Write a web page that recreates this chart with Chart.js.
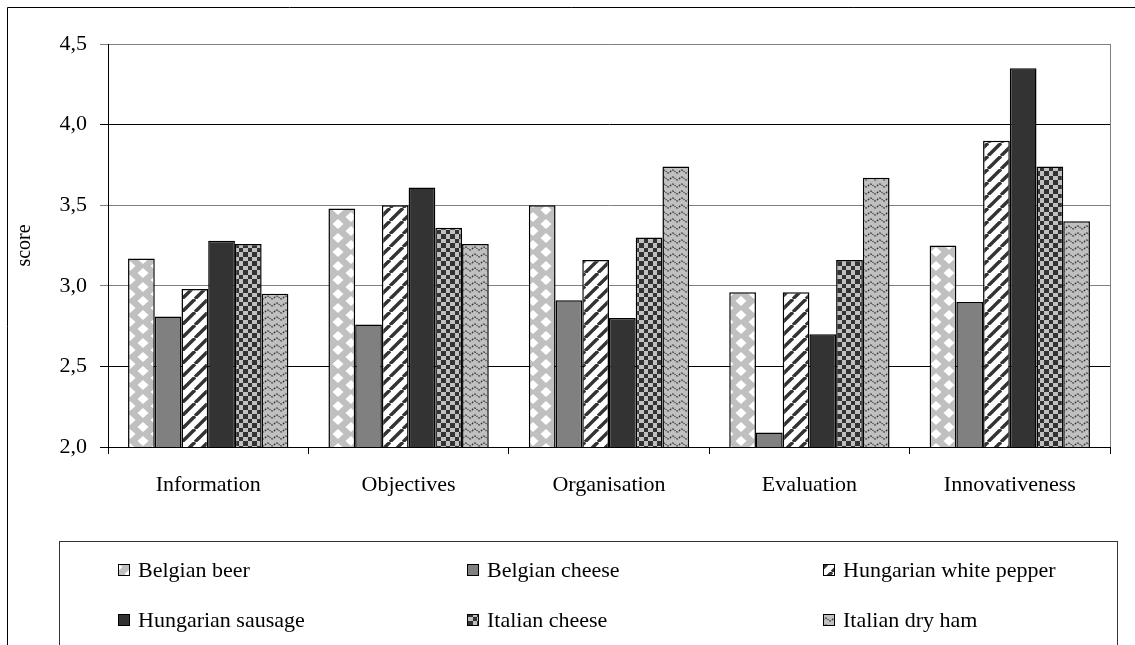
<!DOCTYPE html>
<html>
<head>
<meta charset="utf-8">
<script src="https://cdn.jsdelivr.net/npm/chart.js@4/dist/chart.umd.min.js"></script>
<style>
  html, body { margin: 0; padding: 0; background: #fff; }
  #wrap { width: 1135px; height: 645px; }
</style>
</head>
<body>
<div id="wrap"><canvas id="c" width="1135" height="645"></canvas></div>
<script>
// Scores per dimension for each product
const categories = ['Information', 'Objectives', 'Organisation', 'Evaluation', 'Innovativeness'];
const seriesNames = ['Belgian beer', 'Belgian cheese', 'Hungarian white pepper', 'Hungarian sausage', 'Italian cheese', 'Italian dry ham'];
const belgianBeer          = [3.17, 3.48, 3.50, 2.96, 3.25];
const belgianCheese        = [2.81, 2.76, 2.91, 2.09, 2.90];
const hungarianWhitePepper = [2.98, 3.50, 3.16, 2.96, 3.90];
const hungarianSausage     = [3.28, 3.61, 2.80, 2.70, 4.35];
const italianCheese        = [3.26, 3.36, 3.30, 3.16, 3.74];
const italianDryHam        = [2.95, 3.26, 3.74, 3.67, 3.40];
const yTickLabels = ['2,0', '2,5', '3,0', '3,5', '4,0', '4,5'];
const axisTitle = 'score';

const canvas = document.getElementById('c');
const mainCtx = canvas.getContext('2d');

// Build a repeating fill pattern from a small tile
function makePattern(w, h, draw) {
  const t = document.createElement('canvas');
  t.width = w; t.height = h;
  draw(t.getContext('2d'), w, h);
  return mainCtx.createPattern(t, 'repeat');
}

// light grey with white diamonds
const diamondFill = makePattern(26, 14, (g, w, h) => {
  g.fillStyle = '#c0c0c0';
  g.fillRect(0, 0, w, h);
  g.fillStyle = '#ffffff';
  const pts = [[0, 0], [w, 0], [0, h], [w, h], [w / 2, h / 2]];
  pts.forEach(([cx, cy]) => {
    g.beginPath();
    g.moveTo(cx, cy - 5);
    g.lineTo(cx + 5.5, cy);
    g.lineTo(cx, cy + 5);
    g.lineTo(cx - 5.5, cy);
    g.closePath();
    g.fill();
  });
});

// dark diagonal stripes on white
const stripeFill = makePattern(13, 13, (g, w, h) => {
  g.fillStyle = '#ffffff';
  g.fillRect(0, 0, w, h);
  g.strokeStyle = '#333333';
  g.lineWidth = 3.4;
  [-w, 0, w].forEach(k => {
    g.beginPath();
    g.moveTo(k, h);
    g.lineTo(k + w, 0);
    g.stroke();
  });
});

// dark / light checkerboard
const checkerFill = makePattern(18, 18, (g) => {
  const b = [0, 5, 9, 14, 18];
  for (let i = 0; i < 4; i++) {
    for (let j = 0; j < 4; j++) {
      g.fillStyle = (i + j) % 2 === 0 ? '#333333' : '#c0c0c0';
      g.fillRect(b[i], b[j], b[i + 1] - b[i], b[j + 1] - b[j]);
    }
  }
});

// wavy dark lines on light grey
const waveFill = makePattern(9, 7, (g, w, h) => {
  g.fillStyle = '#c0c0c0';
  g.fillRect(0, 0, w, h);
  g.strokeStyle = '#333333';
  g.lineWidth = 1.2;
  g.setLineDash([2, 1]);
  g.beginPath();
  for (let x = -1; x <= w + 1; x += 0.5) {
    const y = 3.5 + 1.5 * Math.sin(2 * Math.PI * x / w);
    if (x === -1) g.moveTo(x, y); else g.lineTo(x, y);
  }
  g.stroke();
});

const seriesValues = [belgianBeer, belgianCheese, hungarianWhitePepper, hungarianSausage, italianCheese, italianDryHam];
const seriesFills = [diamondFill, '#808080', stripeFill, '#333333', checkerFill, waveFill];

const datasets = seriesNames.map((name, i) => ({
  label: name,
  data: seriesValues[i],
  backgroundColor: seriesFills[i],
  borderColor: '#000000',
  borderWidth: 1.5,
  borderSkipped: false,
  categoryPercentage: 0.8,
  barPercentage: 1.0
}));

const FONT = "'Liberation Serif', 'Times New Roman', serif";
Chart.defaults.font.family = FONT;
Chart.defaults.font.size = 22;
Chart.defaults.color = '#000000';

// Outer frame, plot border on the right, and the boxed legend
const decorations = {
  id: 'decorations',
  afterDraw(chart) {
    const ctx = chart.ctx;
    const area = chart.chartArea;
    ctx.save();
    ctx.lineWidth = 1;

    // outer frame (top and left)
    ctx.strokeStyle = '#000000';
    ctx.beginPath();
    ctx.moveTo(7.5, 645);
    ctx.lineTo(7.5, 7.5);
    ctx.lineTo(1135, 7.5);
    ctx.stroke();

    // right edge of plot area
    ctx.strokeStyle = '#808080';
    ctx.beginPath();
    ctx.moveTo(Math.round(area.right) + 0.5, area.top);
    ctx.lineTo(Math.round(area.right) + 0.5, area.bottom);
    ctx.stroke();

    // legend box
    ctx.strokeStyle = '#333333';
    ctx.strokeRect(59.5, 541.5, 1058, 110);

    const colX = [118, 467, 823];
    const rowY = [570, 620];
    ctx.font = '22px ' + FONT;
    ctx.textBaseline = 'middle';
    ctx.textAlign = 'left';
    chart.data.datasets.forEach((ds, i) => {
      const x = colX[i % 3];
      const y = rowY[Math.floor(i / 3)];
      ctx.fillStyle = ds.backgroundColor;
      ctx.fillRect(x, y - 6, 12, 12);
      ctx.strokeStyle = '#000000';
      ctx.strokeRect(x + 0.5, y - 5.5, 11, 11);
      ctx.fillStyle = '#000000';
      ctx.fillText(ds.label, x + 20, y + 1);
    });
    ctx.restore();
  }
};

new Chart(canvas, {
  type: 'bar',
  data: { labels: categories, datasets },
  options: {
    responsive: false,
    devicePixelRatio: 1,
    animation: false,
    layout: { padding: { left: 8, top: 44, right: 25, bottom: 138 } },
    plugins: {
      legend: { display: false },
      tooltip: { enabled: false }
    },
    scales: {
      x: {
        offset: true,
        afterFit(scale) { scale.height = 60; },
        grid: {
          display: true,
          offset: true,
          drawOnChartArea: false,
          drawTicks: true,
          tickLength: 7,
          color: '#000000'
        },
        border: { display: true, color: '#000000', width: 1 },
        ticks: { padding: 18, color: '#000000', font: { size: 22 }, maxRotation: 0 }
      },
      y: {
        min: 2,
        max: 4.5,
        afterFit(scale) { scale.width = 100; },
        title: {
          display: true,
          text: axisTitle,
          font: { size: 20 },
          color: '#000000',
          padding: { top: 5, bottom: 0 }
        },
        grid: {
          drawTicks: true,
          tickLength: 8,
          color: (c) => {
            const v = c.tick ? Math.round(c.tick.value * 10) / 10 : 0;
            return (v === 3 || v === 3.5 || v === 4.5) ? '#808080' : '#000000';
          },
          lineWidth: 1
        },
        border: { display: true, color: '#000000', width: 1 },
        ticks: {
          stepSize: 0.5,
          padding: 13,
          color: '#000000',
          font: { size: 22 },
          callback: (value, index) => yTickLabels[index]
        }
      }
    }
  },
  plugins: [decorations]
});
</script>
</body>
</html>
